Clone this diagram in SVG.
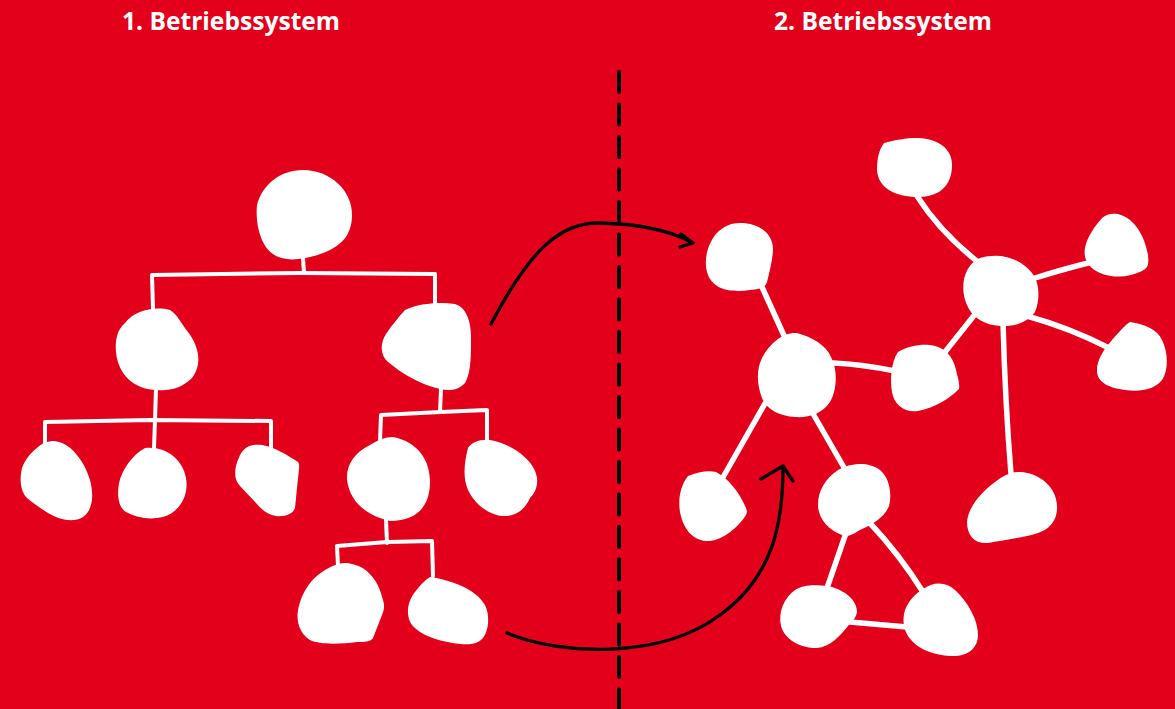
<svg xmlns="http://www.w3.org/2000/svg" width="1175" height="709" viewBox="0 0 1175 709">
<style>
.t{font-family:"Open Sans","Liberation Sans",sans-serif;font-weight:700;font-size:24.6px;fill:#fff;text-anchor:middle}
.n{fill:#fff}
.e{fill:none;stroke:#fff;stroke-width:4;stroke-linecap:round;stroke-linejoin:round}
.w{fill:none;stroke:#fff;stroke-width:5.5;stroke-linecap:round}
.a{fill:none;stroke:#000;stroke-width:3.3;stroke-linecap:round;stroke-linejoin:round}
</style>
<rect width="1175" height="709" fill="#E2001A"/>
<text class="t" x="231" y="30">1. Betriebssystem</text>
<text class="t" x="883" y="30">2. Betriebssystem</text>
<line x1="619" y1="72" x2="619" y2="709" stroke="#000" stroke-width="4" stroke-dasharray="20 12.5" stroke-linecap="round"/>
<g id="connectors">
<path class="e" d="M303,258 L304,273 M153,309 L152,275 L300,273 L435,274 L435,304"/>
<path class="e" d="M156,388 L155,420 M45,444 L45,422 L150,420 L271,421 L271,449 M155,420 L154,448"/>
<path class="e" d="M441,389 L440,412 M380,441 L381,415 L440,412 L487,410 L487,440"/>
<path class="e" d="M386,520 L387,543 M338,566 L337,546 L387,542 L432,541 L433,576"/>
<path class="w" d="M917,196 Q940,232 978,262"/>
<path class="w" d="M762,287 L786,340"/>
<path class="w" d="M833,363 Q860,364 895,371"/>
<path class="w" d="M945,352 L976,313"/>
<path class="w" d="M1032,279 Q1060,270 1092,262"/>
<path class="w" d="M1027,316 Q1070,328 1109,348"/>
<path class="w" d="M1003,322 Q1005,400 1011,474"/>
<path class="w" d="M767,400 L722,479"/>
<path class="w" d="M808,405 L846,471"/>
<path class="w" d="M846,533 L827,588"/>
<path class="w" d="M869,522 Q900,555 923,592"/>
<path class="w" d="M850,622 L907,627"/>
<path class="a" d="M491,324 C530,250 560,222 600,223 C640,224 670,230 693,243 M681,234 L693,243 L680,247"/>
<path class="a" d="M507,633 C560,655 660,660 720,615 C775,575 783,520 783,467 M761,479 L783,466 L793,481"/>
</g>
<g id="root"><path class="n" d="M257,205 C262,185 280,170 303,170 C330,170 352,190 352,215 C352,240 335,252 305,258 C285,262 270,258 262,240 C257,228 256,215 257,205 Z"/></g>
<g id="l1"><path class="n" d="M125,323 C135,310 155,306 170,310 C178,315 180,322 188,332 C200,348 202,365 192,378 C182,388 170,391 157,390 C135,390 118,375 116,352 C115,340 117,330 125,323 Z"/></g>
<g id="r1"><path class="n" d="M405,310 C420,303 440,302 455,304 C468,308 472,325 471,345 C471,360 470,375 465,383 C458,391 448,391 440,389 C420,385 400,372 388,362 C380,355 380,343 386,334 C392,325 398,318 405,310 Z"/></g>
<g id="leaf1"><path class="n" d="M37,448 C42,443 48,441 54,441 C70,442 84,460 90,480 C94,495 93,510 83,517 C73,523 60,520 48,513 C40,508 33,503 27,498 C21,492 19,480 22,468 C25,460 31,452 37,448 Z"/></g>
<g id="leaf2"><path class="n" d="M145,448 C165,446 182,458 186,478 C189,495 180,512 163,517 C150,520 137,518 126,512 C118,507 117,495 119,483 C122,470 132,455 145,448 Z"/></g>
<g id="leaf3"><path class="n" d="M240,455 C245,446 252,444 262,445 C275,447 287,455 298,462 C300,464 299,470 298,478 L295,508 C293,514 285,517 276,516 C268,515 262,510 256,503 L240,486 C234,479 233,470 240,455 Z"/></g>
<g id="nodeA"><path class="n" d="M370,445 C378,440 385,437 393,437 C418,442 430,460 430,482 C430,505 418,521 390,521 C368,516 350,503 347,480 C346,465 354,453 370,445 Z"/></g>
<g id="nodeB"><path class="n" d="M468,448 C472,442 480,439 490,440 C510,443 535,460 537,478 C538,488 534,494 530,498 C526,507 518,517 502,516 C490,515 475,505 468,490 C462,476 465,460 468,448 Z"/></g>
<g id="leafC"><path class="n" d="M318,575 C328,567 338,563 345,563 C365,564 378,578 383,600 C385,606 384,610 382,615 L373,638 C371,642 364,642 357,642 C340,644 320,645 310,640 C300,634 296,622 298,610 C301,595 308,583 318,575 Z"/></g>
<g id="leafD"><path class="n" d="M430,577 C450,580 475,588 485,605 C490,615 489,630 483,638 C478,644 470,645 460,644 C440,642 420,635 412,625 C405,615 408,600 415,592 C420,585 425,580 430,577 Z"/></g>
<g id="netT"><path class="n" d="M884,143 C895,140 905,138 918,138 C940,139 952,150 952,165 C952,185 940,197 918,197 C895,197 878,188 877,170 C877,158 879,150 884,143 Z"/></g>
<g id="netP"><path class="n" d="M740,223 C758,223 772,232 773,248 C773,258 770,270 767,282 C765,288 760,289 750,290 C735,292 715,292 708,275 C703,262 707,245 716,234 C723,226 732,223 740,223 Z"/></g>
<g id="netH"><path class="n" d="M980,258 C1000,252 1020,258 1032,273 C1040,283 1040,300 1035,312 C1028,322 1015,327 1000,326 C985,325 972,318 967,305 C960,290 962,266 980,258 Z"/></g>
<g id="netQ"><path class="n" d="M1102,218 C1106,214 1112,213 1118,214 C1135,218 1145,237 1148,255 C1149,265 1148,268 1142,271 C1130,277 1115,279 1100,273 C1088,268 1083,258 1085,248 C1087,237 1095,226 1102,218 Z"/></g>
<g id="netS"><path class="n" d="M1130,322 C1145,324 1158,330 1162,340 C1168,352 1169,370 1162,380 C1154,390 1140,392 1125,390 C1110,388 1098,383 1097,372 C1096,360 1105,348 1112,340 C1120,331 1125,325 1130,322 Z"/></g>
<g id="netC"><path class="n" d="M797,333 C812,337 826,345 831,357 C838,370 837,390 830,402 C822,414 808,418 795,417 C780,416 767,410 762,398 C757,385 756,370 762,358 C770,343 783,332 797,333 Z"/></g>
<g id="netM"><path class="n" d="M898,352 C908,346 920,344 930,345 C945,347 953,356 956,370 C958,378 960,384 959,389 C950,398 935,408 918,411 C905,413 894,405 892,392 C890,380 891,362 898,352 Z"/></g>
<g id="netLL"><path class="n" d="M688,476 C698,472 708,470 716,472 C728,478 740,493 746,508 C748,513 746,515 744,518 C735,530 720,542 706,541 C692,540 683,528 680,512 C678,500 680,486 688,476 Z"/></g>
<g id="netE"><path class="n" d="M838,470 C850,463 868,461 880,470 C890,478 892,495 889,506 C885,517 872,525 860,530 C852,535 848,537 842,535 C828,530 818,518 818,505 C818,490 826,478 838,470 Z"/></g>
<g id="netF"><path class="n" d="M795,590 C805,584 815,585 828,586 C845,590 857,600 857,612 C856,618 852,622 848,626 C840,636 830,647 817,648 C800,648 785,640 781,626 C778,612 784,598 795,590 Z"/></g>
<g id="netG"><path class="n" d="M923,589 C933,582 945,581 955,590 C968,602 978,620 978,635 C978,648 968,657 950,656 C935,655 920,650 912,641 C903,632 902,620 905,610 C909,600 915,594 923,589 Z"/></g>
<g id="netBR"><path class="n" d="M995,482 C1003,476 1010,472 1020,472 C1040,473 1056,487 1057,505 C1058,520 1050,530 1035,534 C1020,538 1000,541 988,543 C975,544 967,536 967,522 C968,508 980,493 995,482 Z"/></g>
</svg>
